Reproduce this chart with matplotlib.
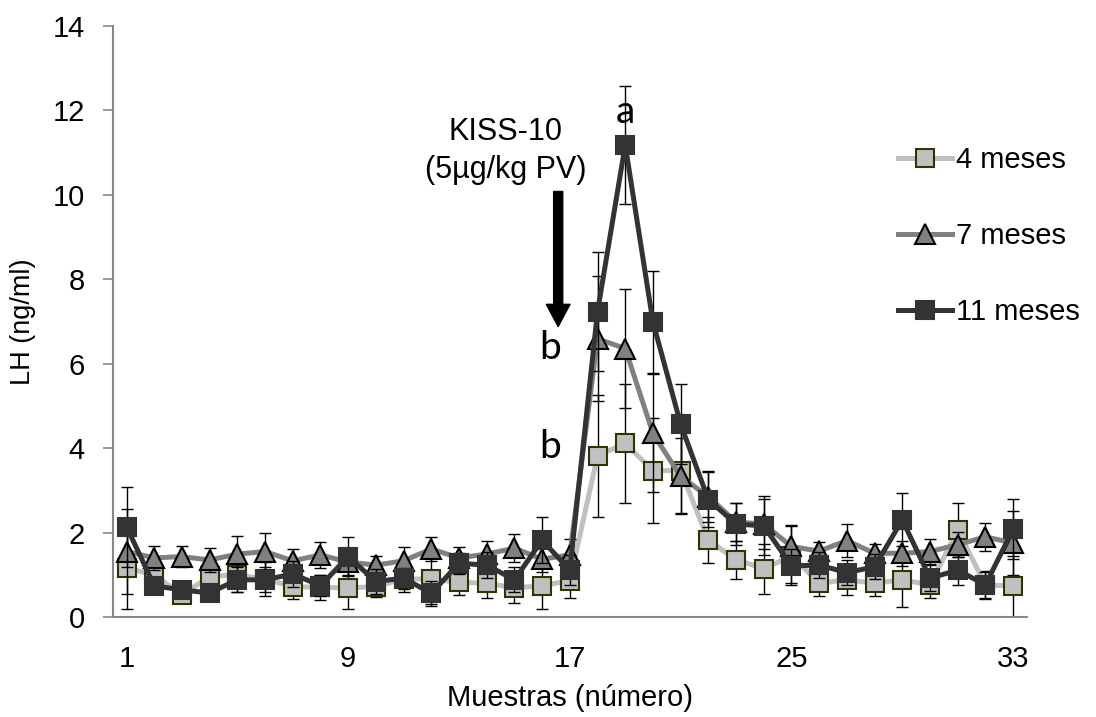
import matplotlib
matplotlib.use('Agg')
import matplotlib.pyplot as plt
import numpy as np

plt.rcParams['font.family'] = ['Liberation Sans', 'DejaVu Sans']

# Sample numbers (1..33)
samples = np.arange(1, 34)
x_ticks = [1, 9, 17, 25, 33]
y_ticks = [0, 2, 4, 6, 8, 10, 12, 14]

labels = ['4 meses', '7 meses', '11 meses']

lh_4m = [1.16, 1.00, 0.52, 0.96, 1.00, 0.90, 0.72, 0.70, 0.69, 0.72, 0.90,
         0.90, 0.82, 0.80, 0.69, 0.74, 0.86, 3.82, 4.11, 3.47, 3.47, 1.82,
         1.36, 1.14, 1.45, 0.80, 0.88, 0.80, 0.88, 0.76, 2.06, 0.76, 0.73]
err_4m = [0.97, 0.30, 0.15, 0.25, 0.40, 0.40, 0.30, 0.30, 0.50, 0.25, 0.30,
          0.60, 0.30, 0.35, 0.35, 0.55, 0.40, 1.44, 1.40, 1.25, 1.00, 0.55,
          0.45, 0.60, 0.70, 0.30, 0.35, 0.30, 0.64, 0.30, 0.65, 0.33, 0.72]

lh_7m = [1.55, 1.40, 1.43, 1.35, 1.49, 1.55, 1.33, 1.47, 1.30, 1.23, 1.33,
         1.61, 1.40, 1.49, 1.63, 1.37, 1.47, 6.59, 6.36, 4.35, 3.33, 2.85,
         2.25, 2.20, 1.67, 1.56, 1.81, 1.51, 1.51, 1.55, 1.71, 1.90, 1.75]
err_7m = [1.00, 0.28, 0.25, 0.28, 0.44, 0.44, 0.27, 0.30, 0.30, 0.22, 0.33,
          0.29, 0.25, 0.30, 0.33, 0.30, 0.37, 1.48, 1.41, 1.40, 0.90, 0.60,
          0.45, 0.60, 0.50, 0.22, 0.40, 0.22, 0.30, 0.30, 0.30, 0.33, 0.75]

lh_11m = [2.14, 0.74, 0.64, 0.57, 0.88, 0.88, 1.02, 0.74, 1.43, 0.84, 0.92,
          0.56, 1.27, 1.23, 0.88, 1.82, 1.11, 7.23, 11.18, 6.99, 4.57, 2.78,
          2.20, 2.16, 1.21, 1.23, 1.05, 1.19, 2.30, 0.92, 1.11, 0.76, 2.08]
err_11m = [0.95, 0.20, 0.15, 0.20, 0.30, 0.30, 0.30, 0.25, 0.47, 0.30, 0.25,
           0.30, 0.25, 0.30, 0.30, 0.55, 0.35, 1.41, 1.39, 1.20, 0.94, 0.65,
           0.50, 0.70, 0.40, 0.30, 0.30, 0.30, 0.63, 0.30, 0.35, 0.30, 0.71]

fig = plt.figure(figsize=(10.96, 7.17), dpi=100)
ax = fig.add_axes([0.1028, 0.1395, 0.8342, 0.8242])

styles = [
    dict(color='#c0c0c0', marker='s', ms=13, mfc='#c0c0c0', mec='#333300', mew=1.5),
    dict(color='#808080', marker='^', ms=15, mfc='#808080', mec='black', mew=1.5),
    dict(color='#333333', marker='s', ms=13, mfc='#333333', mec='#333333', mew=1.5),
]
series = [(lh_4m, err_4m), (lh_7m, err_7m), (lh_11m, err_11m)]

for i, ((vals, errs), st, lab) in enumerate(zip(series, styles, labels)):
    ax.errorbar(samples, vals, yerr=errs, fmt='none', ecolor='black',
                elinewidth=1.0, capsize=4.5, capthick=1.0, zorder=2 + i * 2)
    ax.plot(samples, vals, lw=3.6, label=lab, zorder=3 + i * 2, **st)

ax.set_xlim(0.5, 33.5)
ax.set_ylim(0, 14)
ax.set_xticks(x_ticks)
ax.set_yticks(y_ticks)
ax.tick_params(axis='x', length=0, pad=20, labelsize=21)
ax.tick_params(axis='y', length=7, width=1.2, color='#888888', pad=13, labelsize=21)
for side in ['top', 'right']:
    ax.spines[side].set_visible(False)
for side in ['left', 'bottom']:
    ax.spines[side].set_color('#888888')
    ax.spines[side].set_linewidth(1.5)

ax.set_xlabel('Muestras (número)', fontsize=21, labelpad=8)
ax.set_ylabel('LH (ng/ml)', fontsize=19.5, labelpad=12)

# annotations
ax.text(14.68, 11.49, 'KISS-10', ha='center', va='center', fontsize=22)
ax.text(14.68, 10.59, '(5µg/kg PV)', ha='center', va='center', fontsize=22)
ax.annotate('', xy=(16.58, 6.88), xytext=(16.58, 10.08),
            arrowprops=dict(facecolor='black', edgecolor='black', width=6.5,
                            headwidth=17, headlength=16, shrink=0))
ax.text(19.0, 11.97, 'a', ha='center', va='center', fontsize=28, family='Lato')
ax.text(16.3, 6.37, 'b', ha='center', va='center', fontsize=28, family='Lato')
ax.text(16.3, 4.03, 'b', ha='center', va='center', fontsize=28, family='Lato')

leg = ax.legend(loc='upper left', bbox_to_anchor=(898 / 1096, 1 - 146 / 717),
                bbox_transform=fig.transFigure, frameon=False, fontsize=21,
                handlelength=1.85, handletextpad=0.15, labelspacing=1.65,
                borderpad=0, borderaxespad=0)

fig.savefig('out.png', dpi=100)
